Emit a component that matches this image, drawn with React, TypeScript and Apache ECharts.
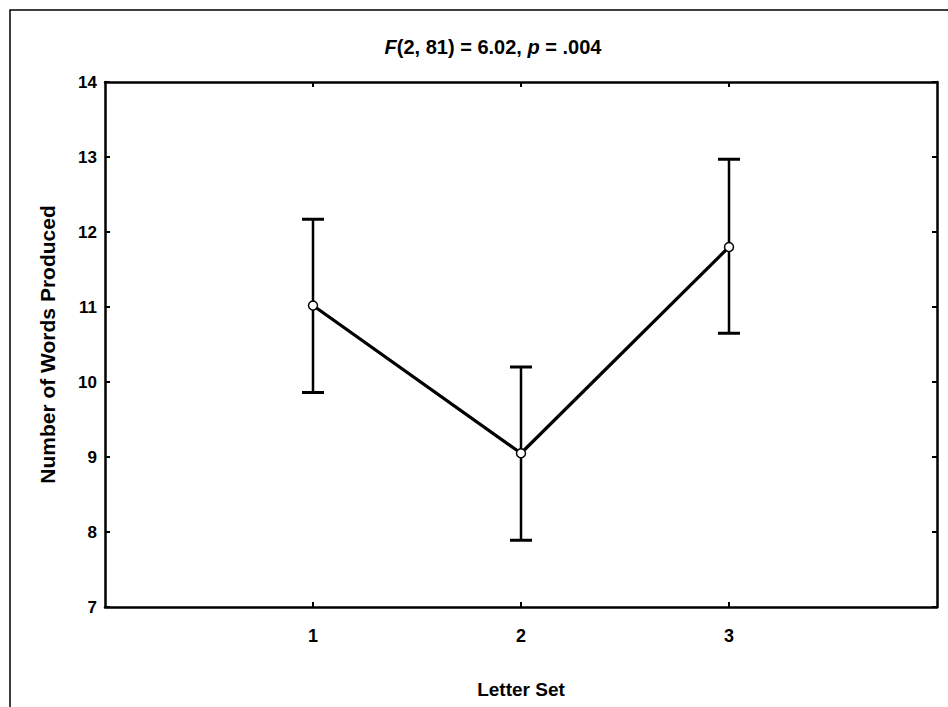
import React, { useEffect, useRef } from "react";
import * as echarts from "echarts";

const letterSets = [1, 2, 3];
const meanWords = [11.02, 9.05, 11.8];
const upperCI = [12.17, 10.2, 12.97];
const lowerCI = [9.86, 7.89, 10.65];
const yTicks = [7, 8, 9, 10, 11, 12, 13, 14];

const FONT = "'Liberation Sans', Arial, sans-serif";

export default function App() {
  const ref = useRef<HTMLDivElement>(null);
  useEffect(() => {
    if (!ref.current) return;
    const chart = echarts.init(ref.current, undefined, { renderer: "svg" });
    const axisLineStyle = { color: "#000", width: 2.5 };
    const option: any = {
      animation: false,
      backgroundColor: "#fff",
      textStyle: { fontFamily: FONT, color: "#000", fontWeight: "bold" },
      title: {
        text: "{i|F}(2, 81) = 6.02, {i|p} = .004",
        left: 488,
        top: 32,
        textAlign: "center",
        textStyle: {
          fontFamily: FONT,
          fontSize: 20,
          fontWeight: "bold",
          color: "#000",
          rich: {
            i: { fontStyle: "italic", fontWeight: "bold", fontFamily: FONT, fontSize: 20, color: "#000" },
          },
        },
      },
      graphic: [
        {
          type: "rect",
          shape: { x: 10, y: 10, width: 960, height: 720 },
          style: { fill: "none", stroke: "#000", lineWidth: 1.5 },
          silent: true,
        },
      ],
      grid: { left: 105, top: 82, width: 832, height: 525 },
      xAxis: [
        {
          type: "value",
          min: 0,
          max: 4,
          interval: 1,
          position: "bottom",
          name: "Letter Set",
          nameLocation: "middle",
          nameGap: 73,
          nameTextStyle: { fontFamily: FONT, fontSize: 19, fontWeight: "bold", color: "#000" },
          axisLine: { show: true, onZero: false, lineStyle: axisLineStyle },
          axisTick: { show: true, inside: true, length: 5, lineStyle: { color: "#000", width: 2 }, customValues: letterSets },
          axisLabel: { fontFamily: FONT, fontSize: 18, fontWeight: "bold", color: "#000", margin: 20, customValues: letterSets },
          splitLine: { show: false },
        },
        {
          type: "value",
          min: 0,
          max: 4,
          interval: 1,
          position: "top",
          axisLine: { show: true, onZero: false, lineStyle: axisLineStyle },
          axisTick: { show: true, inside: true, length: 5, lineStyle: { color: "#000", width: 2 }, customValues: letterSets },
          axisLabel: { show: false },
          splitLine: { show: false },
        },
      ],
      yAxis: [
        {
          type: "value",
          min: 7,
          max: 14,
          interval: 1,
          position: "left",
          name: "Number of Words Produced",
          nameLocation: "middle",
          nameGap: 47,
          nameTextStyle: { fontFamily: FONT, fontSize: 21, fontWeight: "bold", color: "#000" },
          axisLine: { show: true, onZero: false, lineStyle: axisLineStyle },
          axisTick: { show: true, inside: true, length: 5, lineStyle: { color: "#000", width: 2 }, customValues: yTicks },
          axisLabel: { fontFamily: FONT, fontSize: 17, fontWeight: "bold", color: "#000", margin: 8, customValues: yTicks },
          splitLine: { show: false },
        },
        {
          type: "value",
          min: 7,
          max: 14,
          interval: 1,
          position: "right",
          axisLine: { show: true, onZero: false, lineStyle: axisLineStyle },
          axisTick: { show: true, inside: true, length: 5, lineStyle: { color: "#000", width: 2 } },
          axisLabel: { show: false },
          splitLine: { show: false },
        },
      ],
      series: [
        {
          type: "custom",
          xAxisIndex: 0,
          yAxisIndex: 0,
          z: 2,
          data: letterSets.map((x, i) => [x, upperCI[i], lowerCI[i]]),
          renderItem: (params: any, api: any) => {
            const x = api.value(0);
            const pHi = api.coord([x, api.value(1)]);
            const pLo = api.coord([x, api.value(2)]);
            const hw = 11;
            const st = { stroke: "#000", lineWidth: 2.5 };
            return {
              type: "group",
              children: [
                { type: "line", shape: { x1: pHi[0], y1: pHi[1], x2: pLo[0], y2: pLo[1] }, style: st },
                { type: "line", shape: { x1: pHi[0] - hw, y1: pHi[1], x2: pHi[0] + hw, y2: pHi[1] }, style: { stroke: "#000", lineWidth: 3 } },
                { type: "line", shape: { x1: pLo[0] - hw, y1: pLo[1], x2: pLo[0] + hw, y2: pLo[1] }, style: { stroke: "#000", lineWidth: 3 } },
              ],
            };
          },
        },
        {
          type: "line",
          xAxisIndex: 0,
          yAxisIndex: 0,
          z: 3,
          data: letterSets.map((x, i) => [x, meanWords[i]]),
          lineStyle: { color: "#000", width: 3.2 },
          symbol: "circle",
          symbolSize: 9,
          itemStyle: { color: "#fff", borderColor: "#000", borderWidth: 1.5 },
        },
      ],
    };
    chart.setOption(option);
    return () => chart.dispose();
  }, []);
  return (
    <div
      ref={ref}
      style={{ position: "fixed", left: 0, top: 0, width: 948, height: 707, background: "#fff" }}
    />
  );
}
